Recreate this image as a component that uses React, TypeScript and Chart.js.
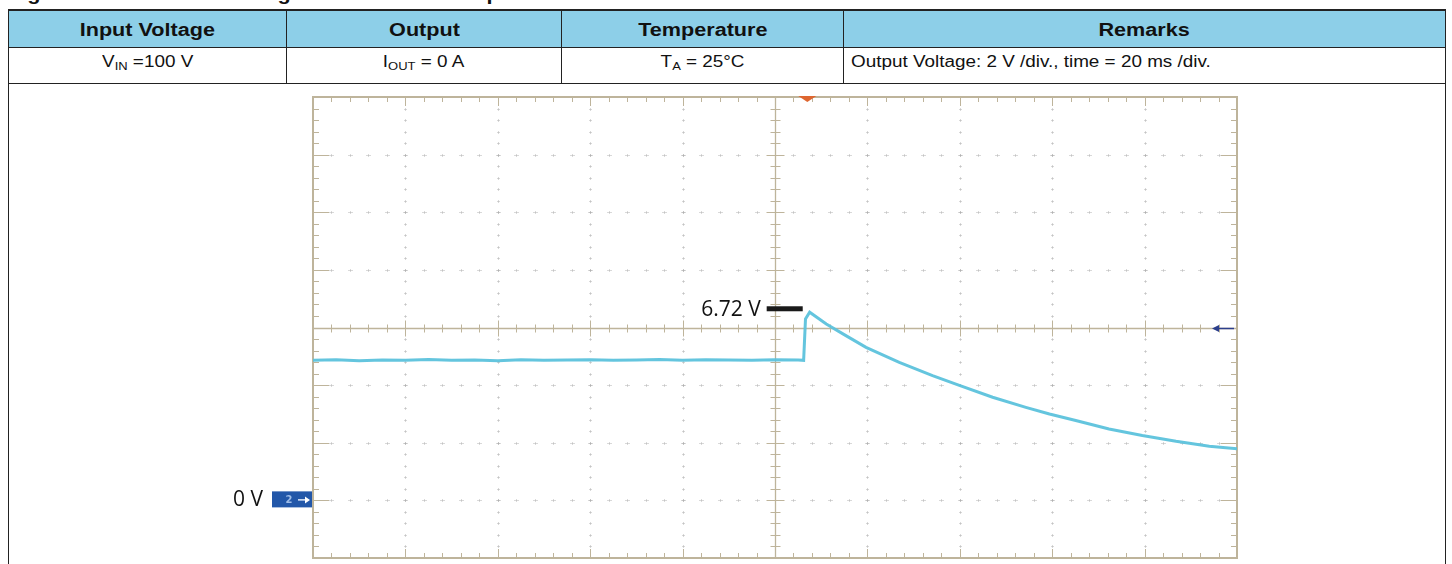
import React, { useEffect, useRef } from "react";
import { Chart, registerables } from "chart.js";

Chart.register(...registerables);

// ---------- data ----------
const TITLE = "Figure 14. Shutdown Voltage Overshoot of Output";
const HEADERS = ["Input Voltage", "Output", "Temperature", "Remarks"];
const REMARKS = "Output Voltage: 2 V /div., time = 20 ms /div.";
const TEMPERATURE = "25°C";

// time in ms (10 div x 20 ms), volts (2 V/div, 0 V three divisions below centre)
const TIME_MS = [
  0, 5, 10, 15, 20, 25, 30, 35, 40, 45, 50, 55, 60, 65, 70, 75, 80, 85, 90, 95, 100, 105,
  106.2, 106.6, 107.5, 111.1, 114.7, 119.7, 126.9, 134.1, 139.9, 147.1, 154.3, 159.4, 165.1,
  172.3, 179.5, 186.8, 194.0, 200,
];
const VOLTS = [
  4.86, 4.88, 4.85, 4.87, 4.86, 4.89, 4.86, 4.87, 4.85, 4.88, 4.86, 4.87, 4.88, 4.86, 4.87,
  4.89, 4.86, 4.88, 4.87, 4.86, 4.88, 4.87,
  4.86, 6.3, 6.53, 6.12, 5.78, 5.31, 4.79, 4.33, 3.99, 3.58, 3.23, 3.0, 2.77, 2.48, 2.25, 2.05,
  1.88, 1.79,
];

const X_MIN = 0;
const X_MAX = 200;
const X_DIV = 20;
const Y_MIN = -2;
const Y_MAX = 14;
const Y_DIV = 2;
const MINOR_PER_DIV = 5;

const PEAK_LABEL = "6.72 V";
const PEAK_MARK_V = 6.65;
const PEAK_MARK_T0 = 98.2;
const PEAK_MARK_T1 = 106.0;
const ZERO_LABEL = "0 V";
const TRIGGER_LEVEL_V = 6;
const TRIGGER_TIME_MS = 107.0;

const COL_EDGES = [8, 286, 561, 843, 1445];

// ---------- plugins ----------
const FRAME = "rgba(190,180,155,1)";
const DOTS = "rgba(170,170,170,0.45)";

const scopeGrid = {
  id: "scopeGrid",
  beforeDatasetsDraw(chart: any) {
    const { ctx, chartArea, scales } = chart;
    const { left, right, top, bottom } = chartArea;
    const x = scales.x;
    const y = scales.y;
    ctx.save();
    ctx.fillStyle = "#fff";
    ctx.fillRect(left, top, right - left, bottom - top);

    const xMid = (X_MIN + X_MAX) / 2;
    const yMid = (Y_MIN + Y_MAX) / 2;
    const xMinor = X_DIV / MINOR_PER_DIV;
    const yMinor = Y_DIV / MINOR_PER_DIV;

    // dotted division lines
    ctx.fillStyle = DOTS;
    for (let v = X_MIN + X_DIV; v < X_MAX - 1e-6; v += X_DIV) {
      if (Math.abs(v - xMid) < 1e-6) continue;
      const px = Math.round(x.getPixelForValue(v));
      for (let w = Y_MIN + yMinor; w < Y_MAX - 1e-6; w += yMinor) {
        const py = Math.round(y.getPixelForValue(w));
        ctx.fillRect(px - 1, py, 3, 1);
        ctx.fillRect(px, py - 1, 1, 3);
      }
    }
    for (let w = Y_MIN + Y_DIV; w < Y_MAX - 1e-6; w += Y_DIV) {
      if (Math.abs(w - yMid) < 1e-6) continue;
      const py = Math.round(y.getPixelForValue(w));
      for (let v = X_MIN + xMinor; v < X_MAX - 1e-6; v += xMinor) {
        const px = Math.round(x.getPixelForValue(v));
        ctx.fillRect(px - 2, py, 5, 1);
        ctx.fillRect(px, py - 1, 1, 3);
      }
    }

    ctx.strokeStyle = FRAME;
    ctx.lineWidth = 1.3;
    // centre cross
    const cx = Math.round(x.getPixelForValue(xMid)) + 0.5;
    const cy = Math.round(y.getPixelForValue(yMid)) + 0.5;
    ctx.beginPath();
    ctx.moveTo(left, cy);
    ctx.lineTo(right, cy);
    ctx.moveTo(cx, top);
    ctx.lineTo(cx, bottom);
    ctx.stroke();

    ctx.lineWidth = 1;
    ctx.beginPath();
    let i = 0;
    for (let v = X_MIN; v <= X_MAX + 1e-6; v += xMinor, i++) {
      const px = Math.round(x.getPixelForValue(v)) + 0.5;
      const major = i % MINOR_PER_DIV === 0;
      const len = major ? 8 : 4;
      ctx.moveTo(px, cy - len);
      ctx.lineTo(px, cy + len);
      ctx.moveTo(px, top);
      ctx.lineTo(px, top + (major ? 9 : 5));
      ctx.moveTo(px, bottom);
      ctx.lineTo(px, bottom - (major ? 9 : 5));
    }
    i = 0;
    for (let w = Y_MIN; w <= Y_MAX + 1e-6; w += yMinor, i++) {
      const py = Math.round(y.getPixelForValue(w)) + 0.5;
      const major = i % MINOR_PER_DIV === 0;
      const len = major ? 9 : 5;
      ctx.moveTo(cx - len, py);
      ctx.lineTo(cx + len, py);
      ctx.moveTo(left, py);
      ctx.lineTo(left + (major ? 16 : 6), py);
      ctx.moveTo(right, py);
      ctx.lineTo(right - (major ? 16 : 6), py);
    }
    ctx.stroke();

    // frame
    ctx.lineWidth = 2;
    ctx.strokeRect(left, top, right - left, bottom - top);
    ctx.restore();
  },
};

const scopeMarks = {
  id: "scopeMarks",
  afterDatasetsDraw(chart: any) {
    const { ctx, chartArea, scales } = chart;
    const { left, right, top } = chartArea;
    const x = scales.x;
    const y = scales.y;
    ctx.save();

    // trigger position (orange, top)
    const tx = x.getPixelForValue(TRIGGER_TIME_MS);
    ctx.fillStyle = "#de6630";
    ctx.beginPath();
    ctx.moveTo(tx - 9, top - 1);
    ctx.lineTo(tx + 9, top - 1);
    ctx.lineTo(tx, top + 5);
    ctx.closePath();
    ctx.fill();

    // trigger level arrow (right)
    const ly = Math.round(y.getPixelForValue(TRIGGER_LEVEL_V)) + 0.5;
    ctx.strokeStyle = "#2c3f8c";
    ctx.fillStyle = "#2c3f8c";
    ctx.lineWidth = 1.5;
    ctx.beginPath();
    ctx.moveTo(right - 22, ly);
    ctx.lineTo(right - 3, ly);
    ctx.stroke();
    ctx.beginPath();
    ctx.moveTo(right - 25, ly);
    ctx.lineTo(right - 18, ly - 3.5);
    ctx.lineTo(right - 18, ly + 3.5);
    ctx.closePath();
    ctx.fill();

    // channel 2 ground marker
    const zy = y.getPixelForValue(0) - 1;
    ctx.fillStyle = "#2257a9";
    ctx.fillRect(left - 41, zy - 8, 40, 16);
    ctx.fillStyle = "#9fbde8";
    ctx.font = "bold 10px 'DejaVu Sans', sans-serif";
    ctx.textAlign = "center";
    ctx.textBaseline = "middle";
    ctx.fillText("2", left - 24, zy + 1);
    ctx.strokeStyle = "#dfe9f8";
    ctx.lineWidth = 1.5;
    ctx.beginPath();
    ctx.moveTo(left - 15, zy + 0.5);
    ctx.lineTo(left - 6, zy + 0.5);
    ctx.stroke();
    ctx.fillStyle = "#ffffff";
    ctx.beginPath();
    ctx.moveTo(left - 3, zy + 0.5);
    ctx.lineTo(left - 8, zy - 3);
    ctx.lineTo(left - 8, zy + 4);
    ctx.closePath();
    ctx.fill();

    ctx.fillStyle = "#111";
    ctx.font = "21px 'Open Sans', sans-serif";
    ctx.textAlign = "right";
    ctx.textBaseline = "middle";
    ctx.fillText(ZERO_LABEL, left - 50, zy + 1);

    // peak marker
    const py = y.getPixelForValue(PEAK_MARK_V);
    const p0 = x.getPixelForValue(PEAK_MARK_T0);
    const p1 = x.getPixelForValue(PEAK_MARK_T1);
    ctx.fillStyle = "#1a1a1a";
    ctx.fillRect(p0, py - 2.5, p1 - p0, 5);
    ctx.fillStyle = "#111";
    ctx.fillText(PEAK_LABEL, p0 - 6, py + 1);

    ctx.restore();
  },
};

// ---------- component ----------
export default function App() {
  const ref = useRef<HTMLCanvasElement | null>(null);

  useEffect(() => {
    if (!ref.current) return;
    const points = TIME_MS.map((t, i) => ({ x: t, y: VOLTS[i] }));
    const chart = new Chart(ref.current, {
      type: "line",
      data: {
        datasets: [
          {
            data: points,
            borderColor: "rgba(92,194,220,0.95)",
            borderWidth: 3,
            pointRadius: 0,
            tension: 0,
            fill: false,
          },
        ],
      },
      options: {
        animation: false,
        responsive: false,
        events: [],
        layout: { padding: { left: 313, right: 215, top: 97, bottom: 6 } },
        plugins: { legend: { display: false }, tooltip: { enabled: false } },
        scales: {
          x: { type: "linear", min: X_MIN, max: X_MAX, display: false },
          y: { type: "linear", min: Y_MIN, max: Y_MAX, display: false },
        },
      },
      plugins: [scopeGrid, scopeMarks],
    });
    return () => chart.destroy();
  }, []);

  const border = "1px solid #222";
  const cellBase: React.CSSProperties = {
    position: "absolute",
    boxSizing: "border-box",
    color: "#111",
    overflow: "hidden",
    whiteSpace: "nowrap",
  };
  const stretch = (s: number, origin: string): React.CSSProperties => ({
    display: "inline-block",
    transform: `scaleX(${s})`,
    transformOrigin: origin,
  });

  const dataCells: React.ReactNode[] = [
    <span>
      V<span style={{ fontSize: 11, position: "relative", top: 3 }}>IN</span> =100 V
    </span>,
    <span>
      I<span style={{ fontSize: 11, position: "relative", top: 3 }}>OUT</span> = 0 A
    </span>,
    <span>
      T<span style={{ fontSize: 11, position: "relative", top: 3 }}>A</span> = {TEMPERATURE}
    </span>,
    <span>{REMARKS}</span>,
  ];

  return (
    <div
      style={{
        position: "fixed",
        left: 0,
        top: 0,
        width: 1452,
        height: 564,
        background: "#fff",
        overflow: "hidden",
        fontFamily: "'Liberation Sans', Arial, sans-serif",
      }}
    >
      <div
        style={{
          position: "absolute",
          left: 8,
          top: -15,
          fontSize: 18,
          lineHeight: "18px",
          fontWeight: "bold",
          color: "#111",
          whiteSpace: "nowrap",
          ...stretch(1.2, "left"),
        }}
      >
        {TITLE}
      </div>

      {HEADERS.map((h, i) => {
        const last = i === HEADERS.length - 1;
        const l = COL_EDGES[i];
        const w = COL_EDGES[i + 1] - l + (last ? 1 : 0);
        return (
          <div
            key={"h" + i}
            style={{
              ...cellBase,
              left: l,
              top: 9,
              width: w,
              height: 39,
              borderTop: "2px solid #222",
              borderLeft: border,
              borderRight: last ? border : "none",
              background: "#8dcfe8",
              textAlign: "center",
              paddingTop: 9,
              fontSize: 18,
              lineHeight: "20px",
              fontWeight: "bold",
            }}
          >
            <span style={stretch(1.2, "center")}>{h}</span>
          </div>
        );
      })}

      {dataCells.map((c, i) => {
        const last = i === dataCells.length - 1;
        const l = COL_EDGES[i];
        const w = COL_EDGES[i + 1] - l + (last ? 1 : 0);
        return (
          <div
            key={"d" + i}
            style={{
              ...cellBase,
              left: l,
              top: 47,
              width: w,
              height: 37,
              borderTop: border,
              borderBottom: border,
              borderLeft: border,
              borderRight: last ? border : "none",
              textAlign: last ? "left" : "center",
              paddingTop: 5,
              paddingLeft: last ? 7 : 0,
              fontSize: 16,
              lineHeight: "18px",
            }}
          >
            <span style={stretch(1.18, last ? "left" : "center")}>{c}</span>
          </div>
        );
      })}

      <div
        style={{
          ...cellBase,
          left: COL_EDGES[0],
          top: 84,
          width: COL_EDGES[4] - COL_EDGES[0] + 1,
          height: 500,
          borderLeft: border,
          borderRight: border,
        }}
      />

      <canvas
        ref={ref}
        width={1452}
        height={564}
        style={{ position: "absolute", left: 0, top: 0, width: 1452, height: 564 }}
      />
    </div>
  );
}
